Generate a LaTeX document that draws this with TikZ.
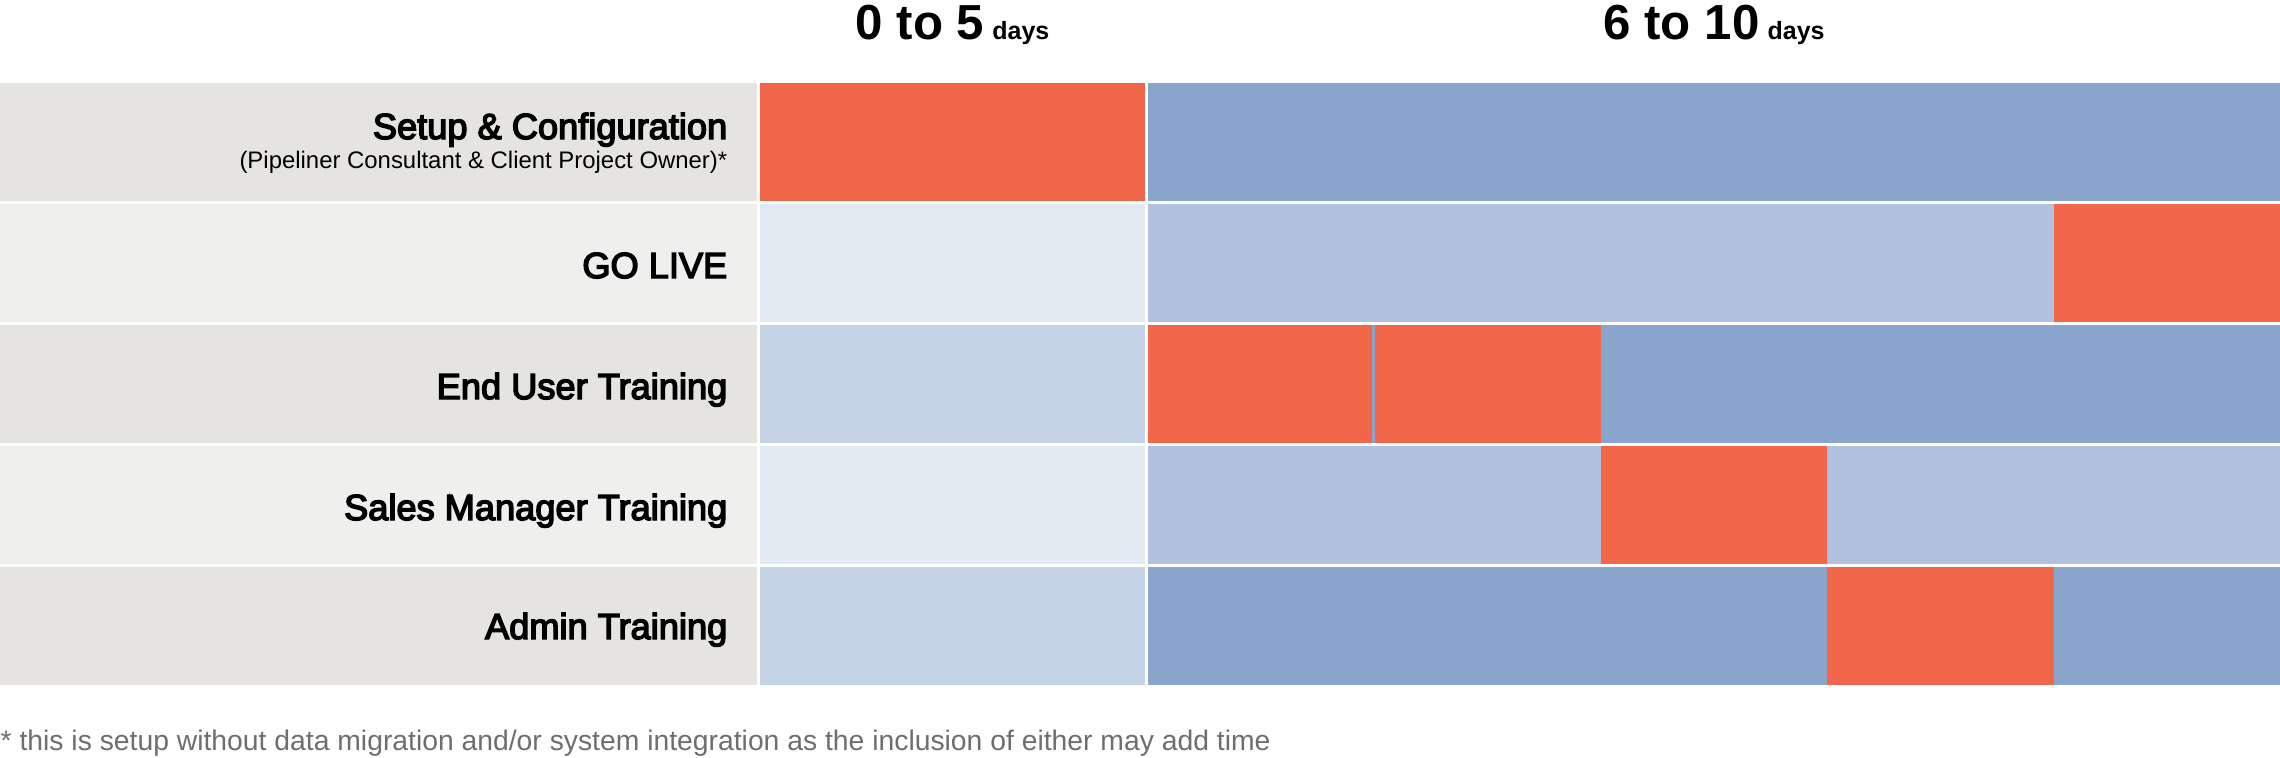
\documentclass[tikz,border=0pt]{standalone}
\usepackage{fontspec}
\setmainfont{Liberation Sans}
\newfontfamily\mediumfont[FakeBold=4]{Liberation Sans}
\definecolor{hot}{HTML}{F26649}
\definecolor{deepblue}{HTML}{8AA5CC}
\definecolor{midblue}{HTML}{B0C2DD}
\definecolor{paleblue}{HTML}{C4D4E6}
\definecolor{faintblue}{HTML}{E1E9F2}
\definecolor{darkrow}{HTML}{E5E4E1}
\definecolor{lightrow}{HTML}{EFEFEE}
\definecolor{notegray}{HTML}{6E6E6E}
\newcommand{\daysize}{\fontsize{7.1}{8}\selectfont}
\begin{document}
\begin{tikzpicture}[x=0.01cm,y=-0.01cm,
    head/.style={anchor=base,inner sep=0pt,font=\fontsize{14}{16}\selectfont\bfseries},
    rowlabel/.style={anchor=base east,inner sep=0pt,font=\mediumfont\fontsize{10.3}{12}\selectfont},
    sublabel/.style={anchor=base east,inner sep=0pt,font=\fontsize{6.8}{8}\selectfont}]
    \useasboundingbox (0,0) rectangle (2280,757);
    % rows: label column, 0 to 5 column, 6 to 10 column
    \foreach \r/\side/\first/\rest in {0/darkrow/hot/deepblue,1/lightrow/faintblue/midblue,
        2/darkrow/paleblue/deepblue,3/lightrow/faintblue/midblue,4/darkrow/paleblue/deepblue}{
        \pgfmathsetmacro{\top}{83+121*\r}
        \fill[\side] (0,\top) rectangle (757,\top+117.5);
        \fill[\first] (760,\top) rectangle (1145,\top+117.5);
        \fill[\rest] (1148,\top) rectangle (2280,\top+117.5);
    }
    % busy days
    \fill[hot] (2053.6,204) rectangle (2280,321.5);
    \fill[hot] (1148,325) rectangle (1372,442.5);
    \fill[hot] (1374.6,325) rectangle (1600.8,442.5);
    \fill[hot] (1600.8,446) rectangle (1827.2,563.5);
    \fill[hot] (1827.2,567) rectangle (2053.6,684.5);
    % headings
    \node[head] (early) at (952.5,39) {0 to 5\,{\daysize days}};
    \node[head] (late) at (1714,39) {6 to 10\,{\daysize days}};
    % row labels
    \node[rowlabel] (setup) at (728,139) {Setup \& Configuration};
    \node[sublabel] (owner) at (728,168) {(Pipeliner Consultant \& Client Project Owner)*};
    \node[rowlabel] (golive) at (728,278) {GO LIVE};
    \node[rowlabel] (enduser) at (728,399) {End User Training};
    \node[rowlabel] (salesmgr) at (728,520) {Sales Manager Training};
    \node[rowlabel] (admin) at (728,639) {Admin Training};
    \node[anchor=base west,inner sep=0pt,text=notegray,font=\fontsize{8.05}{9}\selectfont] (note) at (0,750)
        {* this is setup without data migration and/or system integration as the inclusion of either may add time};
\end{tikzpicture}
\end{document}
